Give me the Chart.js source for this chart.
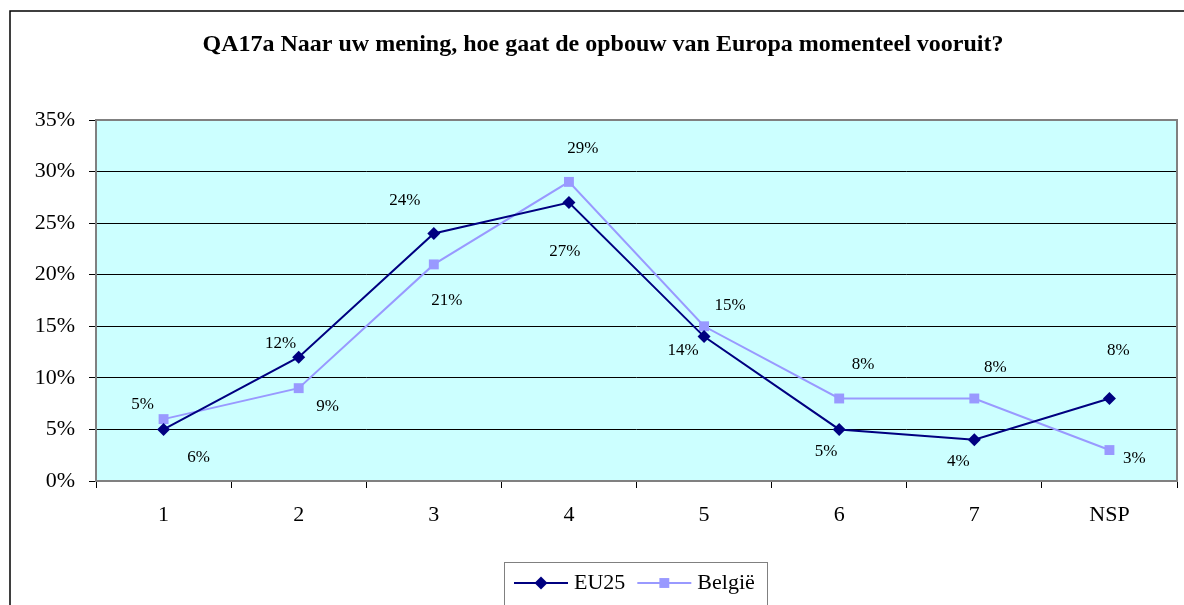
<!DOCTYPE html>
<html>
<head>
<meta charset="utf-8">
<script src="https://cdn.jsdelivr.net/npm/chart.js@4/dist/chart.umd.min.js"></script>
<style>
  body { margin: 0; background: #fff; }
  canvas { display: block; }
</style>
</head>
<body>
<canvas id="graph-area" width="1184" height="605"></canvas>
<script>
// gegevens
var titel = 'QA17a Naar uw mening, hoe gaat de opbouw van Europa momenteel vooruit?';
var categorieen = ['1', '2', '3', '4', '5', '6', '7', 'NSP'];
var eu25 = [5, 12, 24, 27, 14, 5, 4, 8];
var belgie = [6, 9, 21, 29, 15, 8, 8, 3];
var yMax = 35;
var yStap = 5;

var serif = '"Liberation Serif", "Times New Roman", serif';

// plaats van de waardelabels t.o.v. het punt (dx, dy)
var labelsEU = [[-21, -25], [-18, -14], [-29, -33], [-4, 49], [-21, 14], [-13, 22], [-16, 22], [9, -48]];
var labelsBE = [[35, 38], [29, 18], [13, 36], [14, -33], [26, -21], [24, -34], [21, -31], [25, 8]];

var achtergrond = {
  id: 'achtergrond',
  beforeDraw: function (chart) {
    var ctx = chart.ctx, a = chart.chartArea;
    ctx.save();
    ctx.fillStyle = '#fff';
    ctx.fillRect(0, 0, chart.width, chart.height);
    // kader rond de hele grafiek
    ctx.strokeStyle = '#000';
    ctx.lineWidth = 1.5;
    ctx.strokeRect(10, 11, chart.width + 20, chart.height + 20);
    ctx.fillStyle = '#CCFFFF';
    ctx.fillRect(a.left, a.top, a.right - a.left, a.bottom - a.top);
    ctx.restore();
  },
  beforeDatasetsDraw: function (chart) {
    var ctx = chart.ctx, a = chart.chartArea;
    ctx.save();
    ctx.strokeStyle = '#808080';
    ctx.lineWidth = 2;
    ctx.strokeRect(a.left, a.top, a.right - a.left, a.bottom - a.top);
    ctx.restore();
  },
  afterDatasetsDraw: function (chart) {
    var ctx = chart.ctx;
    ctx.save();
    ctx.font = '17px ' + serif;
    ctx.fillStyle = '#000';
    ctx.textAlign = 'center';
    ctx.textBaseline = 'middle';
    chart.data.datasets.forEach(function (ds, di) {
      var meta = chart.getDatasetMeta(di);
      meta.data.forEach(function (pt, i) {
        var off = ds.labelOffsets[i];
        ctx.fillText(ds.data[i] + '%', pt.x + off[0], pt.y + off[1]);
      });
    });
    ctx.restore();
  },
  afterDraw: function (chart) {
    var ctx = chart.ctx;
    ctx.save();
    // titel
    ctx.font = 'bold 24px ' + serif;
    ctx.fillStyle = '#000';
    ctx.textAlign = 'center';
    ctx.textBaseline = 'middle';
    ctx.fillText(titel, 603, 45);

    // legenda
    ctx.strokeStyle = '#808080';
    ctx.lineWidth = 1;
    ctx.strokeRect(504.5, 562.5, 263, 60);
    var x = 514, y = 583;
    ctx.font = '22px ' + serif;
    ctx.textAlign = 'left';
    chart.data.datasets.forEach(function (ds) {
      ctx.strokeStyle = ds.borderColor;
      ctx.fillStyle = ds.backgroundColor;
      ctx.lineWidth = ds.borderWidth;
      ctx.beginPath();
      ctx.moveTo(x, y);
      ctx.lineTo(x + 54, y);
      ctx.stroke();
      Chart.helpers.drawPoint(ctx, {
        pointStyle: ds.pointStyle, radius: ds.pointRadius, rotation: 0, borderWidth: 0
      }, x + 27, y);
      ctx.fillStyle = '#000';
      var w = ctx.measureText(ds.label).width;
      ctx.fillText(ds.label, x + 60, y);
      x += 60 + w + 12;
    });
    ctx.restore();
  }
};

var mydata = {
  labels: categorieen,
  datasets: [
    {
      label: 'EU25',
      data: eu25,
      borderColor: '#000080',
      backgroundColor: '#000080',
      borderWidth: 2,
      pointStyle: 'rectRot',
      pointRadius: 6.5,
      pointBorderWidth: 0,
      labelOffsets: labelsEU
    },
    {
      label: 'België',
      data: belgie,
      borderColor: '#9999FF',
      backgroundColor: '#9999FF',
      borderWidth: 2,
      pointStyle: 'rect',
      pointRadius: 7,
      pointBorderWidth: 0,
      labelOffsets: labelsBE
    }
  ]
};

var options = {
  responsive: false,
  animation: false,
  layout: { padding: { top: 120, left: 10, right: 6, bottom: 64 } },
  plugins: {
    legend: { display: false },
    title: { display: false },
    tooltip: { enabled: false }
  },
  scales: {
    x: {
      offset: true,
      grid: { offset: true, drawOnChartArea: false, tickLength: 7, color: '#000' },
      border: { display: false },
      ticks: { color: '#000', font: { family: serif, size: 22 }, padding: 14 },
      afterFit: function (scale) { scale.height = 60; }
    },
    y: {
      min: 0,
      max: yMax,
      grid: { color: '#000', tickLength: 7 },
      border: { display: false },
      ticks: {
        stepSize: yStap,
        color: '#000',
        font: { family: serif, size: 22 },
        padding: 14,
        callback: function (v) { return v + '%'; }
      },
      afterFit: function (scale) { scale.width = 86; }
    }
  }
};

var canvas = document.getElementById('graph-area');
var chart = new Chart(canvas, {
  type: 'line',
  data: mydata,
  options: options,
  plugins: [achtergrond]
});
</script>
</body>
</html>
